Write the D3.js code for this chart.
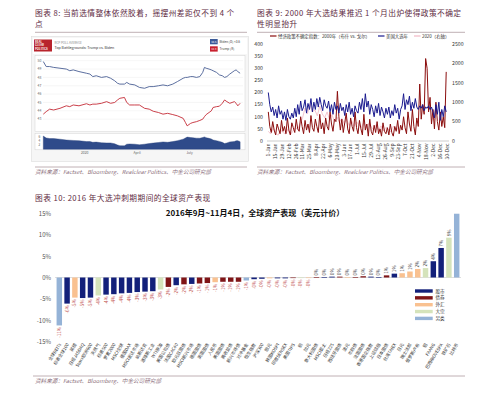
<!DOCTYPE html>
<html><head><meta charset="utf-8">
<script src="https://cdn.jsdelivr.net/npm/d3@7"></script>
<style>
body{margin:0;background:#fff}
svg{display:block}
text{font-family:"Noto Sans CJK SC","Noto Sans",sans-serif}
</style>
</head><body>
<svg id="c" width="500" height="393"></svg>
<script>
// ---------- Figure 8 data: RCP poll average ----------
const rcpDates = ["2019-10-21","2019-10-26","2019-11-01","2019-11-08","2019-11-19","2019-11-30","2019-12-06","2019-12-12","2019-12-22","2020-01-04","2020-01-10","2020-01-15","2020-01-21","2020-01-30","2020-02-08","2020-02-15","2020-02-22","2020-02-27","2020-03-02","2020-03-10","2020-03-14","2020-03-19","2020-03-28","2020-04-05","2020-04-14","2020-04-22","2020-04-29","2020-05-08","2020-05-16","2020-05-24","2020-06-02","2020-06-10","2020-06-20","2020-06-24","2020-06-27","2020-07-03","2020-07-07","2020-07-13","2020-07-19","2020-07-24","2020-07-27","2020-07-30","2020-08-04","2020-08-08","2020-08-11","2020-08-17","2020-08-22","2020-08-27","2020-08-31","2020-09-04","2020-09-09","2020-09-13","2020-09-17","2020-09-20","2020-09-23","2020-09-27"];
const bidenVals = [49.9,49.3,49.3,49.2,49.1,49.0,48.8,48.9,48.7,48.5,48.4,48.1,48.2,48.0,48.1,47.9,47.6,47.3,47.2,47.2,47.4,47.2,47.1,46.8,46.7,46.9,46.9,47.0,47.1,47.0,47.2,47.5,47.9,48.0,48.0,48.1,48.1,48.0,48.1,48.6,49.2,49.1,49.0,48.9,48.8,48.6,48.3,48.2,48.0,48.1,48.4,48.6,48.8,48.9,48.7,48.5];
const trumpVals = [43.6,43.9,44.2,44.1,44.3,44.6,44.5,44.7,44.6,44.85,44.7,44.8,44.8,44.9,45.1,44.9,45.0,45.3,45.5,45.6,45.0,44.7,44.7,44.7,44.3,44.2,43.95,43.8,43.6,43.7,43.55,43.4,43.1,42.6,42.2,42.5,42.6,42.7,42.85,43.0,43.3,43.55,43.8,44.0,44.4,44.5,44.55,44.9,45.3,45.1,44.9,45.0,45.1,44.9,44.6,44.9];
const rcpYTicks = [43,44,45,46,47,48,49,50];
const rcpSpreadTicks = [2,4,6];
const rcpTickDates = ["2020-01-01","2020-04-01","2020-07-01"];
const rcpTickLabels = ["2020","April","July"];

// ---------- Figure 9 data: policy uncertainty ----------
const epu2000 = [120,60,35,80,45,25,70,50,30,85,40,
 60,30,95,45,25,75,55,35,90,
 50,40,100,60,30,85,45,70,35,105,55,
 40,90,60,35,110,50,75,30,95,
 60,45,120,70,40,90,80,205,100,45,90,
 35,75,115,50,30,95,60,40,120,55,
 30,85,50,25,110,45,70,20,90,40,
 25,65,35,80,30,50,20,75,40,30,
 55,25,70,35,20,60,40,85,30,65,
 45,100,55,30,120,70,40,130,60,25,95,
 60,235,90,150,110,340,300,120,180,70,
 130,50,160,80,45,120,60,100,55,285];
const epuElectionYears = [200,150,120,140,105,130,95,145,110,125,90,
 120,85,130,100,90,115,95,135,100,
 150,110,165,125,140,170,115,155,130,175,120,
 160,130,175,140,180,150,125,170,145,
 135,165,120,150,110,160,130,145,115,155,125,
 140,105,150,120,160,110,135,100,145,125,
 115,160,130,175,120,195,140,165,110,150,
 130,100,145,115,155,105,140,120,95,135,
 110,140,95,125,105,150,115,135,90,130,
 145,195,130,170,150,185,125,160,135,175,140,
 130,145,135,150,125,140,135,145,130,140,
 120,95,150,110,160,85,130,100,145,120];
const epu2020 = [250,180,320,200,150,280,220,
 180,300,160,250,350,
 300,450,600,850,700,950,750,
 800,650,900,700,600,
 750,550,680,500,620,480,580,
 450,560,400,520,380,490,
 420,350,480,330,450,360,
 300,420,280,390,260,350,
 300,240,380,280,320];
const f9DayStep = 3, f9PinkStep = 5;
const f9LeftTicks = [0,50,100,150,200,250,300,350,400];
const f9RightTicks = [0,500,1000,1500,2000,2500];
const f9TickLabels = ["1-Jan","15-Jan","29-Jan","12-Feb","26-Feb","11-Mar","25-Mar","8-Apr","22-Apr","6-May","20-May","3-Jun","17-Jun","1-Jul","15-Jul","29-Jul","12-Aug","26-Aug","9-Sep","23-Sep","7-Oct","21-Oct","4-Nov","18-Nov","2-Dec","16-Dec","30-Dec"];
const f9Legend = ["经济政策不确定指数：2000年（布什 vs. 戈尔）","美国大选年","2020（右轴）"];

// ---------- Figure 10 data: asset performance ----------
const assetNames = ["全球REITs","标普全球100","英镑","日经JASDAQ","Stoxx欧洲600","天然气","标普500","罗素2000","MSCI全球","德国DAX","MSCI发达市场","纳斯达克","道琼斯工业","WTI原油","美国公司债","法国CAC40","欧元区国债","MSCI新兴市场","德国国债","英国国债","人民币","美国国债","高收益债","新兴市场债","对冲基金","恒生指数","沪深300","欧元","韩国KOSPI","印度SENSEX","美国TIPS","铜","加元","意大利国债","MSCI亚太","日经225","西班牙国债","澳元","市政债","法国国债","香港国企指数","上证综指","日本国债","台湾TAIEX","日元","瑞士法郎","俄罗斯卢布","铝","FAANG","巴西IBOVESPA","铁矿石","比特币"];
const assetReturns = [-11.2,-6.1,-4.7,-4.8,-4.7,-4.2,-4.0,-3.9,-3.7,-3.6,-3.4,-3.3,-3.2,-2.8,-2.2,-1.8,-1.6,-1.5,-1.4,-1.3,-1.1,-1.0,-1.0,-1.0,-0.7,-0.4,-0.3,-0.2,-0.2,-0.2,-0.1,-0.1,-0.1,0.1,0.1,0.2,0.2,0.1,0.1,0.3,0.2,0.1,0.5,0.9,1.0,1.4,2.0,2.2,3.8,6.9,9.3,14.9];
const assetClass = ["另类","股市","外汇","股市","股市","大宗","股市","股市","股市","股市","股市","股市","股市","大宗","债券","股市","债券","股市","债券","债券","外汇","债券","债券","债券","另类","股市","股市","外汇","股市","股市","债券","大宗","外汇","债券","股市","股市","债券","外汇","债券","债券","股市","股市","债券","股市","外汇","外汇","外汇","大宗","股市","股市","大宗","另类"];
const classNames = ["股市","债券","外汇","大宗","另类"];
const classColors = ["#13207a","#7f1517","#f9c190","#d5e3bb","#95b3d7"];
const barYTicks = [-15,-10,-5,0,5,10,15];

const svg = d3.select("#c");
const titleColor = "#5e2b3f", ruleColor = "#b9a7ab", srcColor = "#8a6d7a";

// ---------- headings / rules / sources ----------
function heading(x, y, lines){
  lines.forEach((t,i)=>svg.append("text").attr("x",x).attr("y",y+i*11.2)
    .attr("font-size",7.7).attr("letter-spacing",0.45).attr("fill",titleColor).text(t));
}
heading(35,16,["图表 8: 当前选情整体依然胶着，摇摆州差距仅不到 4 个","点"]);
heading(257,16,["图表 9: 2000 年大选结果推迟 1 个月出炉使得政策不确定","性明显抬升"]);
heading(35,200.5,["图表 10: 2016 年大选冲刺期期间的全球资产表现"]);
function rule(x1,x2,y){svg.append("line").attr("x1",x1).attr("x2",x2).attr("y1",y).attr("y2",y).attr("stroke",ruleColor).attr("stroke-width",0.9);}
rule(35,247,32.3); rule(257,465,32.3);
rule(35,247,167); rule(257,465,167);
rule(33,465,376);
function source(x,y,t){svg.append("text").attr("x",x).attr("y",y).attr("font-size",5.6).attr("font-style","italic").attr("fill",srcColor).text(t);}
source(35,174,"资料来源：Factset、Bloomberg、Realclear Politics、中金公司研究部");
source(257,174,"资料来源：Factset、Bloomberg、Realclear Politics、中金公司研究部");
source(35,383,"资料来源：Factset、Bloomberg、中金公司研究部");

// ---------- Figure 8 ----------
(function(){
  const g = svg.append("g");
  g.append("rect").attr("x",31.5).attr("y",36.5).attr("width",217).attr("height",125)
    .attr("fill","#f6f6f6").attr("stroke","#dcdcdc").attr("stroke-width",0.6);
  g.append("rect").attr("x",33).attr("y",38).attr("width",214).attr("height",16).attr("fill","#fff");
  g.append("rect").attr("x",34).attr("y",39.5).attr("width",18).attr("height",12).attr("fill","#b8242c");
  ["REAL","CLEAR","POLITICS"].forEach((t,i)=>g.append("text").attr("x",35).attr("y",43+i*3.4)
    .attr("font-size",2.8).attr("font-weight","bold").attr("fill","#fff").text(t));
  g.append("text").attr("x",54.5).attr("y",43.5).attr("font-size",3).attr("fill","#8a8a8a").text("RCP POLL AVERAGE");
  g.append("text").attr("x",54.5).attr("y",49).attr("font-size",3.6).attr("fill","#333").text("Top Battlegrounds: Trump vs. Biden");
  const lastB = bidenVals[bidenVals.length-1], lastT = trumpVals[trumpVals.length-1];
  const leg = [{c:"#3c5a98",v:lastB,t:"Biden (D) +"+(lastB-lastT).toFixed(1),y:39},{c:"#c8202e",v:lastT,t:"Trump (R)",y:46.3}];
  leg.forEach(d=>{
    g.append("rect").attr("x",210).attr("y",d.y).attr("width",7.7).attr("height",5.3).attr("fill",d.c);
    g.append("text").attr("x",213.85).attr("y",d.y+3.7).attr("font-size",2.6).attr("text-anchor","middle").attr("fill","#fff").text(d.v.toFixed(1));
    g.append("text").attr("x",219.5).attr("y",d.y+3.8).attr("font-size",3.2).attr("fill","#444").text(d.t);
  });
  const parse = d3.timeParse("%Y-%m-%d");
  const dates = rcpDates.map(parse);
  const x = d3.scaleTime().domain([parse("2019-10-21"),parse("2020-09-28")]).range([43.3,240.7]);
  const y = d3.scaleLinear().domain([41.5,50.6]).range([131.7,55.7]);
  const ys = d3.scaleLinear().domain([0,6]).range([149.2,136.7]);
  g.append("rect").attr("x",35).attr("y",55.7).attr("width",210).attr("height",76).attr("fill","#fff").attr("stroke","#d3d3d3").attr("stroke-width",0.5);
  g.append("rect").attr("x",35).attr("y",133.3).attr("width",210).attr("height",16.5).attr("fill","#fff").attr("stroke","#d3d3d3").attr("stroke-width",0.5);
  rcpYTicks.forEach(v=>{
    g.append("line").attr("x1",43).attr("x2",243).attr("y1",y(v)).attr("y2",y(v)).attr("stroke","#e8e8e8").attr("stroke-width",0.4);
    g.append("text").attr("x",39.5).attr("y",y(v)+1.2).attr("font-size",3.4).attr("text-anchor","middle").attr("fill","#666").text(v);
  });
  rcpSpreadTicks.forEach(v=>{
    g.append("text").attr("x",39.5).attr("y",ys(v)+1.2).attr("font-size",3.2).attr("text-anchor","middle").attr("fill","#666").text(v);
  });
  rcpTickDates.forEach((d,i)=>{
    g.append("text").attr("x",x(parse(d))).attr("y",153.8).attr("font-size",3.4).attr("text-anchor","middle").attr("fill","#666").text(rcpTickLabels[i]);
  });
  const line = d3.line().x((d,i)=>x(dates[i])).y(d=>y(d));
  g.append("path").attr("d",line(bidenVals)).attr("fill","none").attr("stroke","#4a5f94").attr("stroke-width",0.9);
  g.append("path").attr("d",line(trumpVals)).attr("fill","none").attr("stroke","#c42a36").attr("stroke-width",0.9);
  const spread = bidenVals.map((b,i)=>b-trumpVals[i]);
  const area = d3.area().x((d,i)=>x(dates[i])).y0(ys(0)).y1(d=>ys(d));
  g.append("path").attr("d",area(spread)).attr("fill","#2f4b8a").attr("stroke","#263f78").attr("stroke-width",0.4);
})();

// ---------- Figure 9 ----------
(function(){
  const g = svg.append("g");
  const parse = d3.timeParse("%d-%b-%Y");
  const start = new Date(2000,0,1);
  const x = d3.scaleTime().domain([start,new Date(2000,11,30)]).range([268.3,446.7]);
  const yL = d3.scaleLinear().domain([0,400]).range([141,44]);
  const yR = d3.scaleLinear().domain([0,2500]).range([141,44]);
  f9LeftTicks.forEach(v=>g.append("text").attr("x",263).attr("y",yL(v)+1.8).attr("font-size",5.2).attr("text-anchor","end").attr("fill","#333").text(v));
  f9RightTicks.forEach(v=>g.append("text").attr("x",452).attr("y",yR(v)+1.8).attr("font-size",5.2).attr("fill","#333").text(v));
  g.append("line").attr("x1",267).attr("x2",449).attr("y1",141).attr("y2",141).attr("stroke","#999").attr("stroke-width",0.5);
  f9TickLabels.forEach(l=>{
    const xx = x(parse(l+"-2000"));
    g.append("text").attr("transform",`translate(${xx+1.8},143.5) rotate(-90)`).attr("font-size",5).attr("text-anchor","end").attr("fill","#333").text(l);
  });
  const mk = (arr,step,ys)=>d3.line().x((d,i)=>x(d3.timeDay.offset(start,i*step))).y(d=>ys(d))(arr);
  g.append("path").attr("d",mk(epu2020,f9PinkStep,yR)).attr("fill","none").attr("stroke","#f2b8c4").attr("stroke-width",0.8);
  g.append("path").attr("d",mk(epu2000,f9DayStep,yL)).attr("fill","none").attr("stroke","#8b0d0d").attr("stroke-width",1);
  g.append("path").attr("d",mk(epuElectionYears,f9DayStep,yL)).attr("fill","none").attr("stroke","#1a1a8f").attr("stroke-width",1);
  const legCols = ["#8b0d0d","#1a1a8f","#f2b8c4"], legX = [270,378,414];
  f9Legend.forEach((t,i)=>{
    g.append("line").attr("x1",legX[i]).attr("x2",legX[i]+6.5).attr("y1",36).attr("y2",36).attr("stroke",legCols[i]).attr("stroke-width",1.2);
    g.append("text").attr("x",legX[i]+8).attr("y",37.6).attr("font-size",4.4).attr("fill","#333").text(t);
  });
})();

// ---------- Figure 10 ----------
(function(){
  const g = svg.append("g");
  g.append("text").attr("x",255).attr("y",216).attr("font-size",8).attr("font-weight","bold").attr("text-anchor","middle").attr("fill","#111")
    .text("2016年9月~11月4日，全球资产表现（美元计价）");
  const x = d3.scaleBand().domain(assetNames).range([55.4,460.6]).paddingInner(0.3).paddingOuter(0.15);
  const y = d3.scaleLinear().domain([-15,15]).range([341.7,213.3]);
  const color = d3.scaleOrdinal().domain(classNames).range(classColors);
  const ax = g.append("g").attr("transform","translate(53,0)")
    .call(d3.axisLeft(y).tickValues(barYTicks).tickSize(0).tickPadding(2).tickFormat(d=>d+"%"));
  ax.select(".domain").remove();
  ax.selectAll("text").attr("font-size",6).attr("fill","#555").attr("font-family","Noto Sans, sans-serif");
  g.append("line").attr("x1",55).attr("x2",461).attr("y1",y(0)).attr("y2",y(0)).attr("stroke","#c8c8c8").attr("stroke-width",0.6);
  assetNames.forEach((n,i)=>{
    const v = assetReturns[i];
    const cx = x(n)+x.bandwidth()/2;
    g.append("rect").attr("x",x(n)).attr("width",x.bandwidth())
      .attr("y",Math.min(y(v),y(0))).attr("height",Math.max(0.6,Math.abs(y(v)-y(0))))
      .attr("fill",color(assetClass[i]));
    const lbl = (v<0?"-":"")+Math.round(Math.abs(v))+"%";
    const ly = v<0 ? y(v)+1.5 : y(v)-1.5;
    if (ly > 214) {
      g.append("text").attr("transform",`translate(${cx+1.6},${ly}) rotate(-90)`)
        .attr("font-size",4.6).attr("text-anchor",v<0?"end":"start")
        .attr("fill",v<0?"#c0504d":"#404040").text(lbl);
    }
    g.append("text").attr("transform",`translate(${cx+2},344.5) rotate(-58)`)
      .attr("font-size",4.4).attr("text-anchor","end").attr("fill","#333").text(n);
  });
  classNames.forEach((c,i)=>{
    const yy = 289.3+i*6.85;
    g.append("rect").attr("x",415).attr("y",yy).attr("width",17.7).attr("height",3.4).attr("fill",classColors[i]);
    g.append("text").attr("x",435.5).attr("y",yy+3.2).attr("font-size",4.6).attr("fill","#333").text(c);
  });
})();
</script>
</body></html>
